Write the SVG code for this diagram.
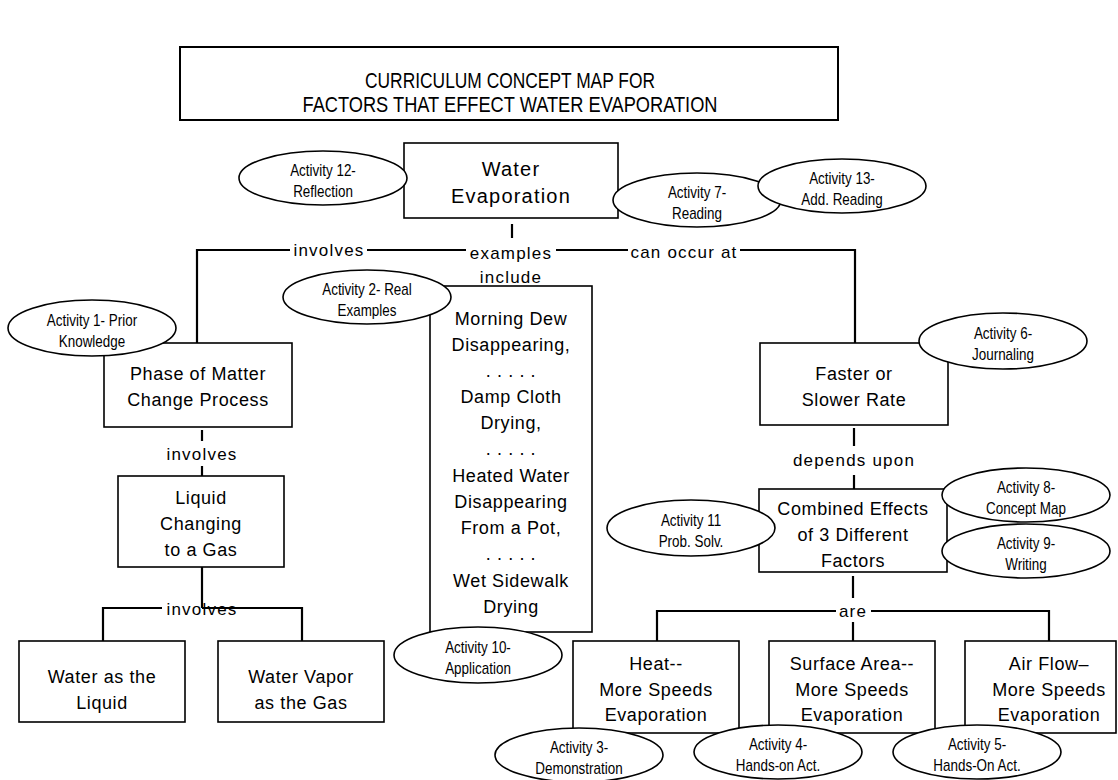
<svg xmlns="http://www.w3.org/2000/svg" width="1118" height="780" viewBox="0 0 1118 780">
<style>
  .box{fill:#fff;stroke:#000;stroke-width:1.6}
  .el{fill:#fff;stroke:#000;stroke-width:1.6}
  .ln{stroke:#000;stroke-width:2.2;fill:none}
  .t{font-family:"Liberation Sans",Arial,sans-serif;font-size:18px;letter-spacing:0.6px;text-anchor:middle;fill:#000}
  .big{font-size:20px;letter-spacing:1.2px}
  .lbl{font-family:"Liberation Sans",Arial,sans-serif;font-size:17px;letter-spacing:1.2px;text-anchor:middle;fill:#000}
  .et{font-family:"Liberation Sans",Arial,sans-serif;font-size:16px;text-anchor:middle;fill:#000}
  .ttl{font-family:"Liberation Sans",Arial,sans-serif;font-size:22px;text-anchor:middle;fill:#000}
</style>
<rect width="1118" height="780" fill="#fff"/>

<g id="title">
  <rect x="180" y="47" width="658" height="73" fill="#fff" stroke="#000" stroke-width="2"/>
  <text class="ttl" x="510" y="88" textLength="290" lengthAdjust="spacingAndGlyphs">CURRICULUM CONCEPT MAP FOR</text>
  <text class="ttl" x="510" y="112" textLength="415" lengthAdjust="spacingAndGlyphs">FACTORS THAT EFFECT WATER EVAPORATION</text>
</g>

<g id="connectors">
  <line class="ln" x1="512" y1="224" x2="512" y2="238"/>
  <polyline class="ln" points="290,250 197,250 197,343"/>
  <line class="ln" x1="367" y1="250" x2="466" y2="250"/>
  <line class="ln" x1="556" y1="250" x2="628" y2="250"/>
  <polyline class="ln" points="740,250 855,250 855,343"/>
  <line class="ln" x1="202" y1="430" x2="202" y2="441"/>
  <line class="ln" x1="202" y1="466" x2="202" y2="476"/>
  <line class="ln" x1="202" y1="567" x2="202" y2="608"/>
  <polyline class="ln" points="162,608 103,608 103,641"/>
  <polyline class="ln" points="202,608 302,608 302,641"/>
  <line class="ln" x1="854" y1="428" x2="854" y2="446"/>
  <line class="ln" x1="854" y1="475" x2="854" y2="489"/>
  <line class="ln" x1="853" y1="576" x2="853" y2="598"/>
  <polyline class="ln" points="836,611 657,611 657,641"/>
  <polyline class="ln" points="871,611 1049,611 1049,641"/>
  <line class="ln" x1="853" y1="622" x2="853" y2="641"/>
  <text class="lbl" x="329" y="256">involves</text>
  <text class="lbl" x="511" y="259">examples</text>
  <text class="lbl" x="511" y="283">include</text>
  <text class="lbl" x="684" y="258">can occur at</text>
  <text class="lbl" x="202" y="460">involves</text>
  <text class="lbl" x="202" y="615">involves</text>
  <text class="lbl" x="854" y="466">depends upon</text>
  <text class="lbl" x="853" y="617">are</text>
</g>

<g id="water-evaporation">
  <rect class="box" x="404" y="143" width="214" height="75"/>
  <text class="t big" x="511" y="176">Water</text>
  <text class="t big" x="511" y="203">Evaporation</text>
</g>

<g id="phase-change">
  <rect class="box" x="104" y="343" width="188" height="84"/>
  <text class="t" x="198" y="380">Phase of Matter</text>
  <text class="t" x="198" y="406">Change Process</text>
</g>

<g id="liquid-gas">
  <rect class="box" x="118" y="476" width="166" height="91"/>
  <text class="t" x="201" y="504">Liquid</text>
  <text class="t" x="201" y="530">Changing</text>
  <text class="t" x="201" y="556">to a Gas</text>
</g>

<g id="water-liquid">
  <rect class="box" x="19" y="641" width="166" height="81"/>
  <text class="t" x="102" y="683">Water as the</text>
  <text class="t" x="102" y="709">Liquid</text>
</g>

<g id="water-vapor">
  <rect class="box" x="218" y="641" width="166" height="81"/>
  <text class="t" x="301" y="683">Water Vapor</text>
  <text class="t" x="301" y="709">as the Gas</text>
</g>

<g id="examples">
  <rect class="box" x="430" y="286" width="162" height="346"/>
  <text class="t" x="511" y="325">Morning Dew</text>
  <text class="t" x="511" y="351">Disappearing,</text>
  <text class="t" x="511" y="377">. . . . .</text>
  <text class="t" x="511" y="403">Damp Cloth</text>
  <text class="t" x="511" y="429">Drying,</text>
  <text class="t" x="511" y="455">. . . . .</text>
  <text class="t" x="511" y="482">Heated Water</text>
  <text class="t" x="511" y="508">Disappearing</text>
  <text class="t" x="511" y="534">From a Pot,</text>
  <text class="t" x="511" y="560">. . . . .</text>
  <text class="t" x="511" y="587">Wet Sidewalk</text>
  <text class="t" x="511" y="613">Drying</text>
</g>

<g id="rate">
  <rect class="box" x="760" y="343" width="188" height="82"/>
  <text class="t" x="854" y="380">Faster or</text>
  <text class="t" x="854" y="406">Slower Rate</text>
</g>

<g id="combined">
  <rect class="box" x="759" y="489" width="188" height="83"/>
  <text class="t" x="853" y="515">Combined Effects</text>
  <text class="t" x="853" y="541">of 3 Different</text>
  <text class="t" x="853" y="567">Factors</text>
</g>

<g id="heat">
  <rect class="box" x="573" y="641" width="166" height="92"/>
  <text class="t" x="656" y="670">Heat--</text>
  <text class="t" x="656" y="696">More Speeds</text>
  <text class="t" x="656" y="721">Evaporation</text>
</g>

<g id="surface">
  <rect class="box" x="769" y="641" width="166" height="92"/>
  <text class="t" x="852" y="670">Surface Area--</text>
  <text class="t" x="852" y="696">More Speeds</text>
  <text class="t" x="852" y="721">Evaporation</text>
</g>

<g id="airflow">
  <rect class="box" x="965" y="641" width="151" height="92"/>
  <text class="t" x="1049" y="670">Air Flow–</text>
  <text class="t" x="1049" y="696">More Speeds</text>
  <text class="t" x="1049" y="721">Evaporation</text>
</g>

<g id="act12">
  <ellipse class="el" cx="323" cy="178" rx="84" ry="27"/>
  <text class="et" transform="translate(323 176) scale(0.84 1)">Activity 12-</text>
  <text class="et" transform="translate(323 197) scale(0.84 1)">Reflection</text>
</g>
<g id="act7">
  <ellipse class="el" cx="697" cy="200" rx="84" ry="27"/>
  <text class="et" transform="translate(697 198) scale(0.84 1)">Activity 7-</text>
  <text class="et" transform="translate(697 219) scale(0.84 1)">Reading</text>
</g>
<g id="act13">
  <ellipse class="el" cx="842" cy="186" rx="84" ry="27"/>
  <text class="et" transform="translate(842 184) scale(0.84 1)">Activity 13-</text>
  <text class="et" transform="translate(842 205) scale(0.84 1)">Add. Reading</text>
</g>
<g id="act1">
  <ellipse class="el" cx="92" cy="328" rx="84" ry="28"/>
  <text class="et" transform="translate(92 326) scale(0.84 1)">Activity 1- Prior</text>
  <text class="et" transform="translate(92 347) scale(0.84 1)">Knowledge</text>
</g>
<g id="act2">
  <ellipse class="el" cx="367" cy="297" rx="84" ry="27"/>
  <text class="et" transform="translate(367 295) scale(0.84 1)">Activity 2- Real</text>
  <text class="et" transform="translate(367 316) scale(0.84 1)">Examples</text>
</g>
<g id="act6">
  <ellipse class="el" cx="1003" cy="341" rx="84" ry="28"/>
  <text class="et" transform="translate(1003 339) scale(0.84 1)">Activity 6-</text>
  <text class="et" transform="translate(1003 360) scale(0.84 1)">Journaling</text>
</g>
<g id="act11">
  <ellipse class="el" cx="691" cy="528" rx="84" ry="28"/>
  <text class="et" transform="translate(691 526) scale(0.84 1)">Activity 11</text>
  <text class="et" transform="translate(691 547) scale(0.84 1)">Prob. Solv.</text>
</g>
<g id="act8">
  <ellipse class="el" cx="1026" cy="495" rx="84" ry="27"/>
  <text class="et" transform="translate(1026 493) scale(0.84 1)">Activity 8-</text>
  <text class="et" transform="translate(1026 514) scale(0.84 1)">Concept Map</text>
</g>
<g id="act9">
  <ellipse class="el" cx="1026" cy="551" rx="84" ry="27"/>
  <text class="et" transform="translate(1026 549) scale(0.84 1)">Activity 9-</text>
  <text class="et" transform="translate(1026 570) scale(0.84 1)">Writing</text>
</g>
<g id="act10">
  <ellipse class="el" cx="478" cy="655" rx="84" ry="28"/>
  <text class="et" transform="translate(478 653) scale(0.84 1)">Activity 10-</text>
  <text class="et" transform="translate(478 674) scale(0.84 1)">Application</text>
</g>
<g id="act3">
  <ellipse class="el" cx="579" cy="755" rx="84" ry="27"/>
  <text class="et" transform="translate(579 753) scale(0.84 1)">Activity 3-</text>
  <text class="et" transform="translate(579 774) scale(0.84 1)">Demonstration</text>
</g>
<g id="act4">
  <ellipse class="el" cx="778" cy="752" rx="84" ry="27"/>
  <text class="et" transform="translate(778 750) scale(0.84 1)">Activity 4-</text>
  <text class="et" transform="translate(778 771) scale(0.84 1)">Hands-on Act.</text>
</g>
<g id="act5">
  <ellipse class="el" cx="977" cy="752" rx="84" ry="27"/>
  <text class="et" transform="translate(977 750) scale(0.84 1)">Activity 5-</text>
  <text class="et" transform="translate(977 771) scale(0.84 1)">Hands-On Act.</text>
</g>
</svg>
